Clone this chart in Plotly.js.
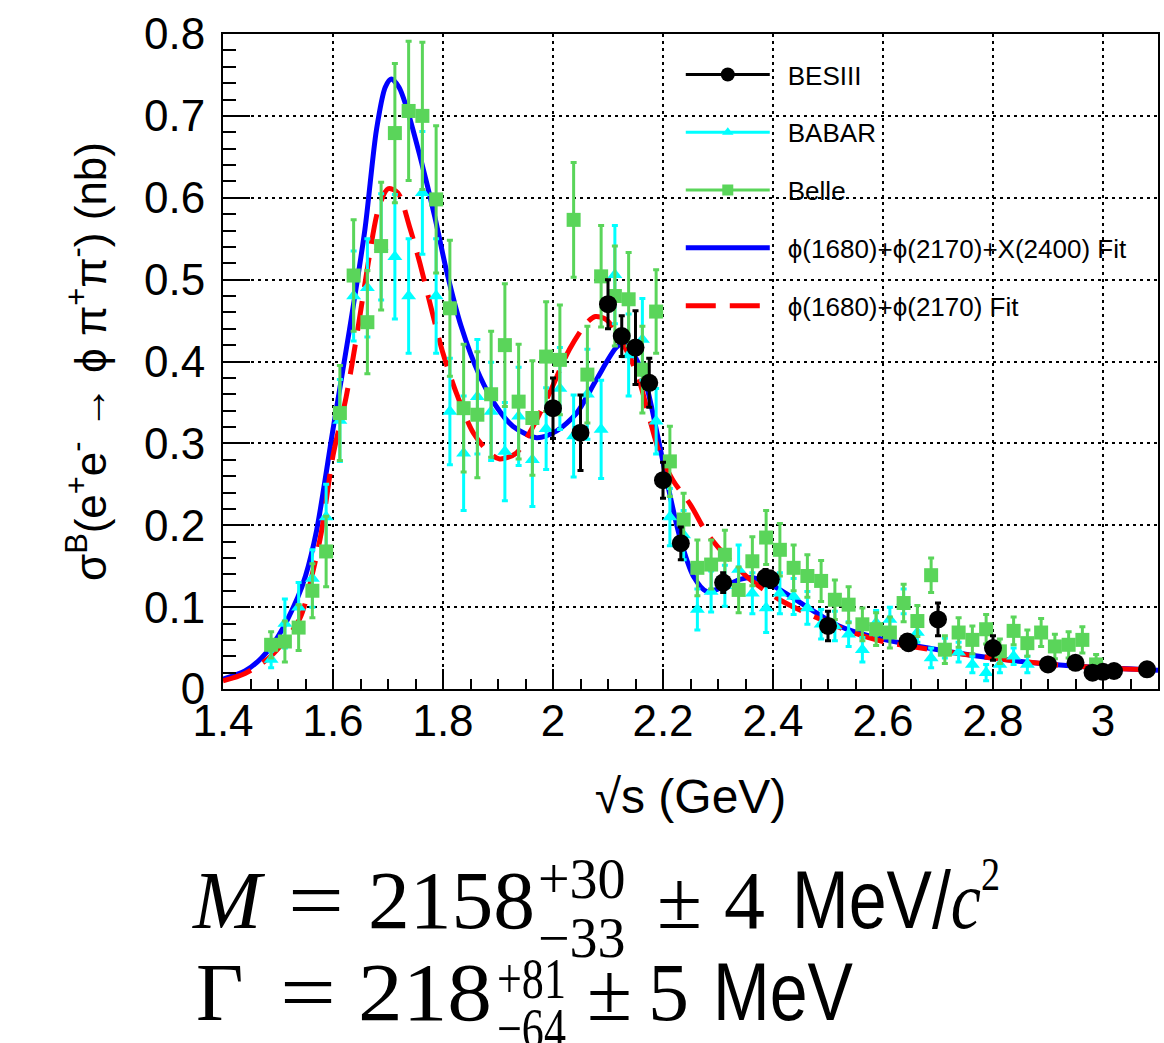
<!DOCTYPE html>
<html><head><meta charset="utf-8">
<script src="https://cdn.plot.ly/plotly-3.0.1.min.js"></script>
<style>
html,body{margin:0;padding:0;background:#fff;}
#wrap{position:relative;width:1164px;height:1043px;overflow:hidden;}
#chart{position:absolute;left:0;top:0;width:1164px;height:1043px;}
#eq{position:absolute;left:0;top:0;pointer-events:none;}
</style></head><body>
<div id="wrap"><div id="chart"></div>
<svg id="eq" width="1164" height="1043" xmlns="http://www.w3.org/2000/svg">
 <g font-family="Liberation Serif, DejaVu Serif, serif" fill="#000">
  <text x="193" y="928" font-size="82" font-style="italic">M</text>
  <text x="288" y="928" font-size="82" textLength="56" lengthAdjust="spacingAndGlyphs">=</text>
  <text x="368" y="928" font-size="82" textLength="167" lengthAdjust="spacingAndGlyphs">2158</text>
  <text font-size="56"><tspan x="538" y="898">+30</tspan><tspan x="538" y="957">−33</tspan></text>
  <text x="657" y="928" font-size="82">±</text>
  <text x="724" y="928" font-size="82">4</text>
  <text transform="translate(792,928) scale(0.83,1)" font-size="82"><tspan font-family="Liberation Sans, Arial, sans-serif">MeV/</tspan><tspan font-style="italic">c</tspan><tspan font-size="46" dy="-38">2</tspan></text>

  <text x="196" y="1020" font-size="82">Γ</text>
  <text x="280" y="1020" font-size="82" textLength="56" lengthAdjust="spacingAndGlyphs">=</text>
  <text x="358" y="1020" font-size="82" textLength="134" lengthAdjust="spacingAndGlyphs">218</text>
  <text transform="translate(497,0) scale(0.76,1)" font-size="58"><tspan x="0" y="998">+81</tspan><tspan x="0" y="1048">−64</tspan></text>
  <text x="587" y="1020" font-size="82">±</text>
  <text x="648" y="1020" font-size="82">5</text>
  <text transform="translate(713,1020) scale(0.83,1)" font-size="82" font-family="Liberation Sans, Arial, sans-serif">MeV</text>
 </g>
</svg>
</div>
<script>
// ---- BESIII ----
const besX = [2.0, 2.05, 2.1, 2.125, 2.15, 2.175, 2.2, 2.2324, 2.3094, 2.3864, 2.396, 2.5, 2.6444, 2.6464, 2.7, 2.8, 2.9, 2.95, 2.981, 3.0, 3.02, 3.08];
const besY = [0.343, 0.313, 0.470, 0.431, 0.417, 0.374, 0.255, 0.178, 0.130, 0.136, 0.134, 0.077, 0.058, 0.056, 0.085, 0.050, 0.030, 0.032, 0.020, 0.021, 0.022, 0.024];
const besE = [0.037, 0.046, 0.030, 0.025, 0.045, 0.030, 0.022, 0.020, 0.012, 0.010, 0.010, 0.018, 0.008, 0.008, 0.020, 0.015, 0.005, 0.005, 0.006, 0.006, 0.005, 0.004];

// ---- BABAR ----
const babX = [1.4875,1.5125,1.5375,1.5625,1.5875,1.6125,1.6375,1.6625,1.6875,1.7125,1.7375,1.7625,1.7875,1.8125,1.8375,1.8625,1.8875,1.9125,1.9375,1.9625,1.9875,2.0125,2.0375,2.0625,2.0875,2.1125,2.1375,2.1625,2.1875,2.2125,2.2375,2.2625,2.2875,2.3125,2.3375,2.3625,2.3875,2.4125,2.4375,2.4625,2.4875,2.5125,2.5375,2.5625,2.5875,2.6125,2.6375,2.6625,2.6875,2.7125,2.7375,2.7625,2.7875,2.8125,2.8375,2.8625];
const babY = [0.036,0.080,0.100,0.135,0.210,0.328,0.480,0.490,0.540,0.528,0.480,0.606,0.480,0.339,0.288,0.357,0.339,0.290,0.333,0.280,0.318,0.367,0.309,0.360,0.317,0.506,0.408,0.427,0.327,0.210,0.188,0.097,0.119,0.126,0.146,0.117,0.099,0.117,0.113,0.099,0.079,0.077,0.067,0.048,0.081,0.085,0.107,0.069,0.038,0.050,0.045,0.030,0.020,0.030,0.040,0.030];
const babE = [0.010,0.030,0.030,0.035,0.040,0.050,0.055,0.060,0.065,0.076,0.070,0.075,0.070,0.065,0.070,0.070,0.060,0.060,0.060,0.057,0.050,0.050,0.050,0.055,0.060,0.060,0.050,0.050,0.040,0.035,0.030,0.025,0.025,0.025,0.030,0.025,0.030,0.025,0.022,0.020,0.018,0.018,0.015,0.015,0.015,0.015,0.015,0.012,0.012,0.012,0.012,0.010,0.010,0.010,0.010,0.010];

// ---- Belle ----
const belX = [1.4875,1.5125,1.5375,1.5625,1.5875,1.6125,1.6375,1.6625,1.6875,1.7125,1.7375,1.7625,1.7875,1.8125,1.8375,1.8625,1.8875,1.9125,1.9375,1.9625,1.9875,2.0125,2.0375,2.0625,2.0875,2.1125,2.1375,2.1625,2.1875,2.2125,2.2375,2.2625,2.2875,2.3125,2.3375,2.3625,2.3875,2.4125,2.4375,2.4625,2.4875,2.5125,2.5375,2.5625,2.5875,2.6125,2.6375,2.6625,2.6875,2.7125,2.7375,2.7625,2.7875,2.8125,2.8375,2.8625,2.8875,2.9125,2.9375,2.9625,2.9875];
const belY = [0.054,0.058,0.075,0.120,0.168,0.337,0.505,0.448,0.541,0.679,0.706,0.700,0.598,0.465,0.343,0.335,0.360,0.420,0.351,0.331,0.406,0.402,0.573,0.384,0.504,0.480,0.476,0.390,0.461,0.278,0.207,0.148,0.152,0.164,0.121,0.156,0.185,0.170,0.148,0.138,0.132,0.109,0.103,0.079,0.073,0.069,0.105,0.083,0.139,0.048,0.069,0.060,0.073,0.046,0.071,0.056,0.069,0.052,0.054,0.060,0.030];
const belE = [0.016,0.025,0.028,0.033,0.043,0.058,0.068,0.063,0.078,0.085,0.085,0.090,0.090,0.083,0.078,0.077,0.077,0.075,0.070,0.070,0.067,0.067,0.070,0.059,0.062,0.061,0.057,0.053,0.051,0.043,0.032,0.034,0.030,0.030,0.028,0.030,0.033,0.032,0.028,0.026,0.025,0.024,0.022,0.020,0.020,0.019,0.023,0.019,0.021,0.017,0.018,0.017,0.018,0.015,0.017,0.016,0.017,0.015,0.016,0.016,0.012];

// ---- Fit curves ----
const fit3X = [1.40,1.44,1.47,1.50,1.536,1.55,1.57,1.60,1.63,1.658,1.679,1.695,1.706,1.72,1.733,1.758,1.785,1.806,1.833,1.867,1.897,1.927,1.97,2.006,2.043,2.079,2.115,2.13,2.15,2.17,2.19,2.21,2.23,2.255,2.28,2.31,2.34,2.364,2.40,2.46,2.52,2.58,2.70,2.82,2.945,3.10];
const fit3Y = [0.012,0.022,0.038,0.064,0.112,0.138,0.193,0.317,0.439,0.561,0.683,0.735,0.745,0.735,0.712,0.651,0.577,0.512,0.443,0.382,0.345,0.321,0.307,0.315,0.337,0.378,0.417,0.423,0.405,0.370,0.310,0.245,0.187,0.138,0.119,0.125,0.134,0.136,0.126,0.101,0.077,0.064,0.048,0.036,0.028,0.023];
const fit2X = [1.40,1.44,1.487,1.539,1.564,1.579,1.60,1.624,1.645,1.664,1.682,1.70,1.718,1.739,1.758,1.779,1.80,1.824,1.855,1.885,1.903,1.933,1.964,1.994,2.03,2.061,2.077,2.097,2.12,2.14,2.158,2.176,2.194,2.218,2.25,2.279,2.315,2.358,2.412,2.473,2.545,2.60,2.70,2.82,2.945,3.10];
const fit2Y = [0.010,0.019,0.040,0.085,0.145,0.192,0.285,0.357,0.439,0.520,0.585,0.611,0.606,0.565,0.520,0.464,0.410,0.362,0.313,0.288,0.281,0.288,0.321,0.362,0.415,0.447,0.455,0.451,0.430,0.405,0.374,0.329,0.288,0.255,0.225,0.191,0.162,0.134,0.109,0.089,0.069,0.058,0.047,0.036,0.028,0.023];

const names = ['BESIII','BABAR','Belle','\u03d5(1680)+\u03d5(2170)+X(2400) Fit','\u03d5(1680)+\u03d5(2170) Fit'];
const cBes = '#000000', cBab = '#00ffff', cBel = '#5ad55a', cFit3 = '#0000ff', cFit2 = '#ff0000';
const lead = '\u2002';

const traces = [
  {x: fit3X, y: fit3Y, mode:'lines', line:{color:cFit3, width:5, shape:'spline', smoothing:0.8}, name:lead+names[3], legendgroup:'g4', legendrank:4},
  {x: fit2X, y: fit2Y, mode:'lines', line:{color:cFit2, width:5, shape:'spline', smoothing:0.8, dash:'30px,14px'}, name:lead+names[4], legendgroup:'g5', legendrank:5},
  {x: babX, y: babY, mode:'markers', marker:{symbol:'triangle-up', size:13, color:cBab},
   error_y:{type:'data', array:babE, color:cBab, thickness:3, width:3}, showlegend:false},
  {x: belX, y: belY, mode:'markers', marker:{symbol:'square', size:14, color:cBel},
   error_y:{type:'data', array:belE, color:cBel, thickness:3, width:3}, showlegend:false},
  {x: besX, y: besY, mode:'markers', marker:{symbol:'circle', size:18, color:cBes},
   error_y:{type:'data', array:besE, color:cBes, thickness:3, width:3}, showlegend:false},
  // legend proxies
  {x:[null], y:[null], mode:'lines+markers', name:lead+names[0], line:{color:cBes, width:3}, marker:{symbol:'circle', size:14, color:cBes}, legendgroup:'g1', legendrank:1},
  {x:[null], y:[null], mode:'lines+markers', name:lead+names[1], line:{color:cBab, width:3}, marker:{symbol:'triangle-up', size:10, color:cBab}, legendgroup:'g2', legendrank:2},
  {x:[null], y:[null], mode:'lines+markers', name:lead+names[2], line:{color:cBel, width:3}, marker:{symbol:'square', size:11, color:cBel}, legendgroup:'g3', legendrank:3}
];

const tickFont = {family:'Liberation Sans, Arial, sans-serif', size:44, color:'#000'};
const layout = {
  width:1164, height:1043,
  margin:{l:223, r:6, t:34, b:353.5, pad:0},
  paper_bgcolor:'#fff', plot_bgcolor:'#fff',
  showlegend:true,
  legend:{x:0.4896, y:0.974, xanchor:'left', yanchor:'top', bgcolor:'rgba(0,0,0,0)', borderwidth:0,
    font:{family:'Liberation Sans, Arial, sans-serif', size:26, color:'#000'},
    itemwidth:84, tracegroupgap:21, traceorder:'grouped'},
  shapes:[{type:'rect', xref:'paper', yref:'paper', x0:0.48, x1:0.995, y0:0.538, y1:0.991,
    fillcolor:'#fff', line:{width:0}, layer:'between'}],
  xaxis:{range:[1.4,3.1], dtick:0.2, tick0:1.4, ticks:'inside', ticklen:20, tickwidth:2, tickcolor:'#000',
    showline:true, linecolor:'#000', linewidth:2, mirror:true,
    showgrid:true, gridcolor:'#000', gridwidth:2, griddash:'3px,4px', zeroline:false,
    minor:{dtick:0.05, ticklen:10, tickwidth:2, tickcolor:'#000', ticks:'inside', showgrid:false},
    tickfont:tickFont, ticklabelstandoff:-8,
    title:{text:'\u221as (GeV)', font:{family:'Liberation Sans, Arial, sans-serif', size:48, color:'#000'}, standoff:36}},
  yaxis:{range:[0,0.8], dtick:0.1, tick0:0, ticks:'inside', ticklen:27, tickwidth:2, tickcolor:'#000',
    showline:true, linecolor:'#000', linewidth:2, mirror:true,
    showgrid:true, gridcolor:'#000', gridwidth:2, griddash:'3px,4px', zeroline:false,
    minor:{dtick:0.02, ticklen:13, tickwidth:2, tickcolor:'#000', ticks:'inside', showgrid:false},
    tickfont:tickFont, ticklabelstandoff:7,
    title:{text:'\u03c3<sup>B</sup>(e<sup>+</sup>e<sup>-</sup> \u2192 \u03d5 \u03c0<sup>+</sup>\u03c0<sup>-</sup>) (nb)', font:{family:'Liberation Sans, Arial, sans-serif', size:44, color:'#000'}, standoff:24}}
};
Plotly.newPlot('chart', traces, layout, {displayModeBar:false, staticPlot:true});
</script>
</body></html>
